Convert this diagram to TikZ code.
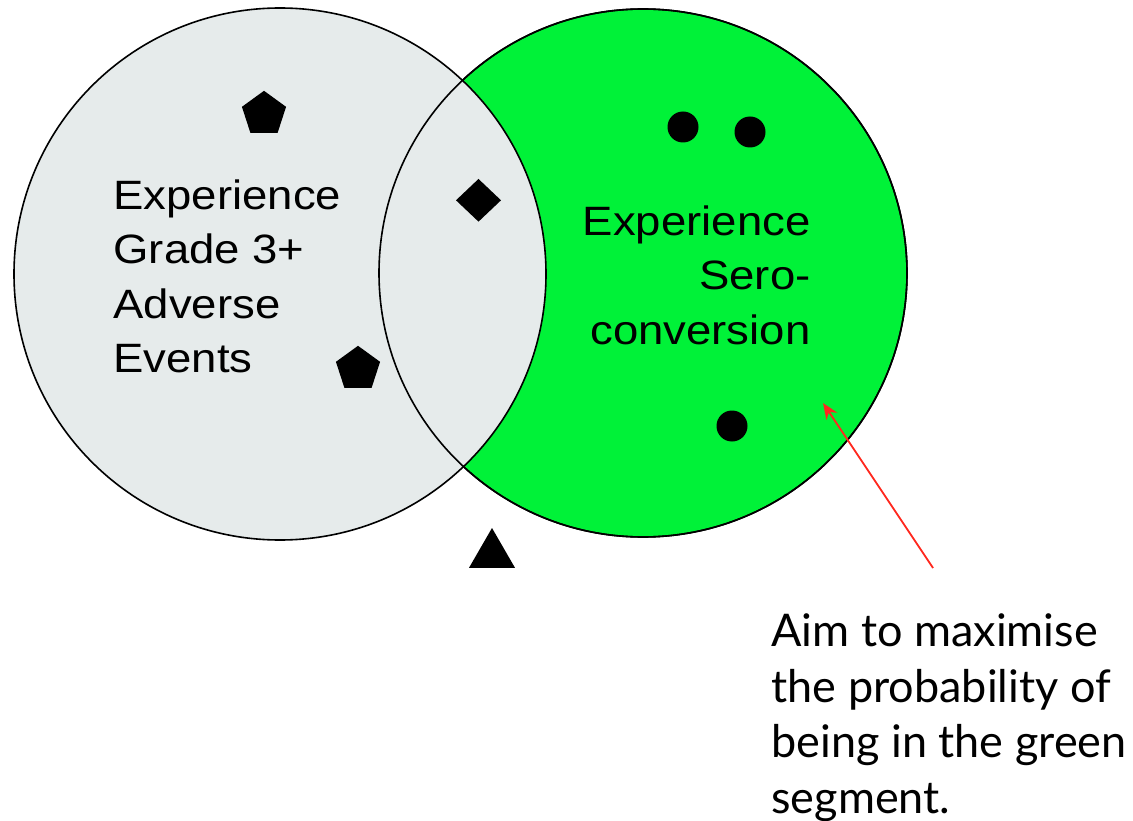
\documentclass[tikz,border=0pt]{standalone}
\usepackage{fontspec}
\setmainfont{Liberation Sans}
\newfontfamily\vennfont[FakeStretch=1.11]{Liberation Sans}
\newfontfamily\notefont{Lato}
\usetikzlibrary{shapes.geometric,arrows.meta,positioning}
\definecolor{aegray}{RGB}{230,235,235}
\definecolor{serogreen}{RGB}{0,242,56}
\definecolor{notered}{RGB}{255,40,30}

\begin{document}
\begin{tikzpicture}[x=1pt,y=-1pt]
                \tikzstyle{every node}+=[inner sep=0pt,outer sep=0pt]
                \tikzstyle{venn}=[circle,draw=black,line width=1.6pt]
                \tikzstyle{pent}=[regular polygon,regular polygon sides=5,fill=black,minimum size=46.4pt]
                \tikzstyle{dot}=[circle,fill=black,minimum size=31pt]
                \tikzstyle{label}=[font={\vennfont\fontsize{41}{54.5}\selectfont}]
                \useasboundingbox (0,0) rectangle (1133,821);
                \node [venn,fill=serogreen,minimum size=528pt] (sero) at (643,273) {};
                \node [venn,fill=aegray,minimum size=532pt] (ae) at (280,274) {};
                \node [venn,minimum size=528pt] (seroedge) at (sero.center) {};
                \node [pent] (pentA) at (264,114) {};
                \node [pent] (pentB) at (358,369) {};
                \node [diamond,fill=black,minimum width=45pt,minimum height=42.7pt] (both) at (478.5,200.3) {};
                \node [regular polygon,regular polygon sides=3,fill=black,minimum size=53pt] (neither) at (492,554.5) {};
                \foreach \n/\x/\y in {1/683/127,2/750/132,3/732/426}
                    \node [dot] (dot\n) at (\x,\y) {};
                \node [label,anchor=north west,align=left] (aetext) at (113.5,179.5) {Experience\\Grade 3+\\Adverse\\Events};
                \node [label,anchor=north east,align=right] (serotext) at (810.5,205.5) {Experience\\Sero-\\conversion};
                \node [anchor=north west,align=left,font={\notefont\fontsize{45}{55.5}\selectfont}] (aim) at (771.5,614) {Aim to maximise\\the probability of\\being in the green\\segment.};
                \coordinate (tail) at (933,568);
                \coordinate (tip) at (823,403);
                \draw [notered,line width=1.8pt,-{Stealth[length=16pt,width=13pt]}] (tail) -- (tip);
\end{tikzpicture}
\end{document}
